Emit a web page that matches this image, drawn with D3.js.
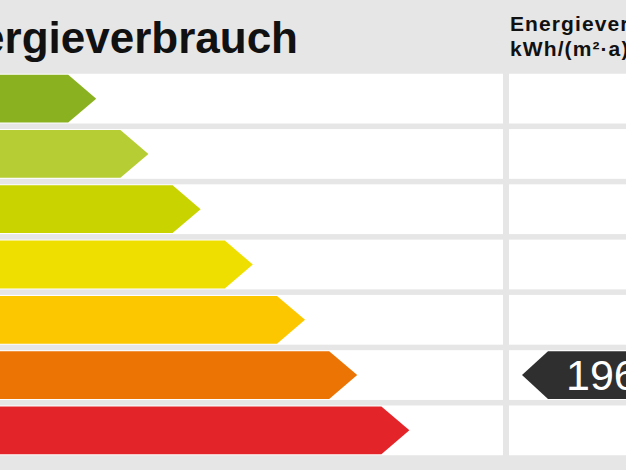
<!DOCTYPE html>
<html>
<head>
<meta charset="utf-8">
<script src="https://cdn.jsdelivr.net/npm/d3@7"></script>
<style>
  html, body { margin: 0; padding: 0; background: #e6e6e6; overflow: hidden; }
  svg { display: block; font-family: "Liberation Sans", Arial, sans-serif; }
</style>
</head>
<body>
<div id="label"></div>
<script>
// Energy classes (letters sit off the left edge in the reference crop)
const classes = ["A", "B", "C", "D", "E", "F", "G"];
const classLevels = [1, 2, 3, 4, 5, 6, 7];
const classColors = ["#8ab220", "#b6cd33", "#c9d300", "#efdf00", "#fdc700", "#ec7404", "#e3252a"];

// Measured value and the class it falls in
const valueText = "196";
const valueClass = "F";

const titleText = "Energieverbrauch";
const unitLines = ["Energieverbrauch", "kWh/(m²·a)"];

const width = 626, height = 470;

const svg = d3.select("#label")
    .append("svg")
    .attr("width", width)
    .attr("height", height);

// Background
svg.append("rect")
    .attr("width", width)
    .attr("height", height)
    .attr("fill", "#e6e6e6");

// Scales
const y = d3.scaleBand()
    .domain(classes)
    .range([71, 458])
    .paddingInner(0.1)
    .paddingOuter(0.05);

const x = d3.scaleLinear()
    .domain([0, 7])
    .range([44, 409.4]);

const tip = 28;      // depth of arrow point
const inset = 1;     // bar inset inside its row

// Title (left part is cut off, like the reference)
svg.append("text")
    .attr("x", 298)
    .attr("y", 53)
    .attr("text-anchor", "end")
    .attr("font-size", 44)
    .attr("font-weight", "bold")
    .attr("fill", "#111")
    .text(titleText);

// Right column header
svg.append("g")
    .selectAll("text")
    .data(unitLines)
    .join("text")
    .attr("x", 510)
    .attr("y", (d, i) => 31 + i * 25)
    .attr("font-size", 21)
    .attr("letter-spacing", 1.1)
    .attr("font-weight", "bold")
    .attr("fill", "#111")
    .text(d => d);

// White row cells, left and right column
svg.append("g")
    .selectAll("rect")
    .data(classes)
    .join("rect")
    .attr("x", -10)
    .attr("y", d => y(d))
    .attr("width", 513)
    .attr("height", y.bandwidth())
    .attr("fill", "#fff");

svg.append("g")
    .selectAll("rect")
    .data(classes)
    .join("rect")
    .attr("x", 509)
    .attr("y", d => y(d))
    .attr("width", 130)
    .attr("height", y.bandwidth())
    .attr("fill", "#fff");

// Class arrows
function arrowRight(x0, x1, y0, h) {
    return `M${x0},${y0} L${x1 - tip},${y0} L${x1},${y0 + h / 2} L${x1 - tip},${y0 + h} L${x0},${y0 + h} Z`;
}

svg.append("g")
    .selectAll("path")
    .data(classes)
    .join("path")
    .attr("d", (d, i) => arrowRight(-120, x(classLevels[i]), y(d) + inset, y.bandwidth() - 2 * inset))
    .attr("fill", (d, i) => classColors[i]);

// Class letters (fall outside the visible crop)
svg.append("g")
    .selectAll("text")
    .data(classes)
    .join("text")
    .attr("x", -60)
    .attr("y", d => y(d) + y.bandwidth() / 2 + 12)
    .attr("font-size", 34)
    .attr("font-weight", "bold")
    .attr("fill", "#fff")
    .text(d => d);

// Value marker pointing left
const my = y(valueClass) + inset;
const mh = y.bandwidth() - 2 * inset;
const mx = 522;
svg.append("path")
    .attr("d", `M${mx},${my + mh / 2} L${mx + 26},${my} L${width + 20},${my} L${width + 20},${my + mh} L${mx + 26},${my + mh} Z`)
    .attr("fill", "#2f2f2f");

svg.append("text")
    .attr("x", 566)
    .attr("y", my + mh / 2 + 15)
    .attr("font-size", 43)
    .attr("fill", "#fff")
    .text(valueText);
</script>
</body>
</html>
